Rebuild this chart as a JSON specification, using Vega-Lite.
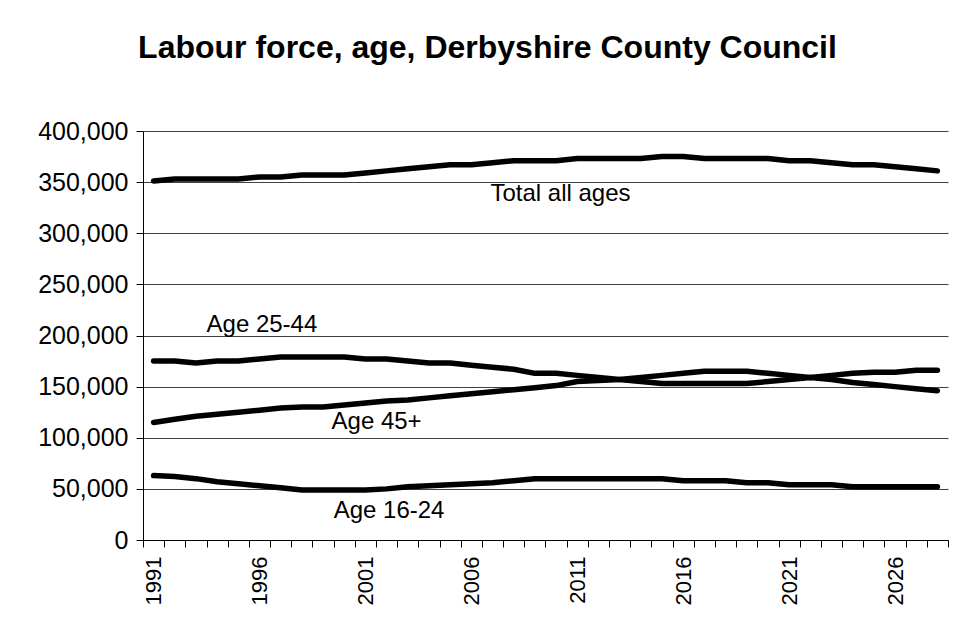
{
  "$schema": "https://vega.github.io/schema/vega-lite/v6.json",
  "width": 805,
  "height": 409,
  "autosize": {"type": "none"},
  "padding": {"left": 143, "top": 131, "right": 8, "bottom": 97},
  "background": "white",
  "title": {
    "text": "Labour force, age, Derbyshire County Council",
    "font": "Liberation Sans",
    "fontSize": 32,
    "fontWeight": "bold",
    "color": "black",
    "anchor": "middle",
    "offset": 54,
    "dx": -58
  },
  "config": {"view": {"stroke": null}, "font": "Liberation Sans"},
  "datasets": {
    "series": [
      {"series": "Total all ages", "year": 1991, "value": 351000},
      {"series": "Total all ages", "year": 1992, "value": 353000},
      {"series": "Total all ages", "year": 1993, "value": 353000},
      {"series": "Total all ages", "year": 1994, "value": 353000},
      {"series": "Total all ages", "year": 1995, "value": 353000},
      {"series": "Total all ages", "year": 1996, "value": 355000},
      {"series": "Total all ages", "year": 1997, "value": 355000},
      {"series": "Total all ages", "year": 1998, "value": 357000},
      {"series": "Total all ages", "year": 1999, "value": 357000},
      {"series": "Total all ages", "year": 2000, "value": 357000},
      {"series": "Total all ages", "year": 2001, "value": 359000},
      {"series": "Total all ages", "year": 2002, "value": 361000},
      {"series": "Total all ages", "year": 2003, "value": 363000},
      {"series": "Total all ages", "year": 2004, "value": 365000},
      {"series": "Total all ages", "year": 2005, "value": 367000},
      {"series": "Total all ages", "year": 2006, "value": 367000},
      {"series": "Total all ages", "year": 2007, "value": 369000},
      {"series": "Total all ages", "year": 2008, "value": 371000},
      {"series": "Total all ages", "year": 2009, "value": 371000},
      {"series": "Total all ages", "year": 2010, "value": 371000},
      {"series": "Total all ages", "year": 2011, "value": 373000},
      {"series": "Total all ages", "year": 2012, "value": 373000},
      {"series": "Total all ages", "year": 2013, "value": 373000},
      {"series": "Total all ages", "year": 2014, "value": 373000},
      {"series": "Total all ages", "year": 2015, "value": 375000},
      {"series": "Total all ages", "year": 2016, "value": 375000},
      {"series": "Total all ages", "year": 2017, "value": 373000},
      {"series": "Total all ages", "year": 2018, "value": 373000},
      {"series": "Total all ages", "year": 2019, "value": 373000},
      {"series": "Total all ages", "year": 2020, "value": 373000},
      {"series": "Total all ages", "year": 2021, "value": 371000},
      {"series": "Total all ages", "year": 2022, "value": 371000},
      {"series": "Total all ages", "year": 2023, "value": 369000},
      {"series": "Total all ages", "year": 2024, "value": 367000},
      {"series": "Total all ages", "year": 2025, "value": 367000},
      {"series": "Total all ages", "year": 2026, "value": 365000},
      {"series": "Total all ages", "year": 2027, "value": 363000},
      {"series": "Total all ages", "year": 2028, "value": 361000},
      {"series": "Age 25-44", "year": 1991, "value": 175000},
      {"series": "Age 25-44", "year": 1992, "value": 175000},
      {"series": "Age 25-44", "year": 1993, "value": 173000},
      {"series": "Age 25-44", "year": 1994, "value": 175000},
      {"series": "Age 25-44", "year": 1995, "value": 175000},
      {"series": "Age 25-44", "year": 1996, "value": 177000},
      {"series": "Age 25-44", "year": 1997, "value": 179000},
      {"series": "Age 25-44", "year": 1998, "value": 179000},
      {"series": "Age 25-44", "year": 1999, "value": 179000},
      {"series": "Age 25-44", "year": 2000, "value": 179000},
      {"series": "Age 25-44", "year": 2001, "value": 177000},
      {"series": "Age 25-44", "year": 2002, "value": 177000},
      {"series": "Age 25-44", "year": 2003, "value": 175000},
      {"series": "Age 25-44", "year": 2004, "value": 173000},
      {"series": "Age 25-44", "year": 2005, "value": 173000},
      {"series": "Age 25-44", "year": 2006, "value": 171000},
      {"series": "Age 25-44", "year": 2007, "value": 169000},
      {"series": "Age 25-44", "year": 2008, "value": 167000},
      {"series": "Age 25-44", "year": 2009, "value": 163000},
      {"series": "Age 25-44", "year": 2010, "value": 163000},
      {"series": "Age 25-44", "year": 2011, "value": 161000},
      {"series": "Age 25-44", "year": 2012, "value": 159000},
      {"series": "Age 25-44", "year": 2013, "value": 157000},
      {"series": "Age 25-44", "year": 2014, "value": 155000},
      {"series": "Age 25-44", "year": 2015, "value": 153000},
      {"series": "Age 25-44", "year": 2016, "value": 153000},
      {"series": "Age 25-44", "year": 2017, "value": 153000},
      {"series": "Age 25-44", "year": 2018, "value": 153000},
      {"series": "Age 25-44", "year": 2019, "value": 153000},
      {"series": "Age 25-44", "year": 2020, "value": 155000},
      {"series": "Age 25-44", "year": 2021, "value": 157000},
      {"series": "Age 25-44", "year": 2022, "value": 159000},
      {"series": "Age 25-44", "year": 2023, "value": 157000},
      {"series": "Age 25-44", "year": 2024, "value": 154000},
      {"series": "Age 25-44", "year": 2025, "value": 152000},
      {"series": "Age 25-44", "year": 2026, "value": 150000},
      {"series": "Age 25-44", "year": 2027, "value": 148000},
      {"series": "Age 25-44", "year": 2028, "value": 146000},
      {"series": "Age 45+", "year": 1991, "value": 115000},
      {"series": "Age 45+", "year": 1992, "value": 118000},
      {"series": "Age 45+", "year": 1993, "value": 121000},
      {"series": "Age 45+", "year": 1994, "value": 123000},
      {"series": "Age 45+", "year": 1995, "value": 125000},
      {"series": "Age 45+", "year": 1996, "value": 127000},
      {"series": "Age 45+", "year": 1997, "value": 129000},
      {"series": "Age 45+", "year": 1998, "value": 130000},
      {"series": "Age 45+", "year": 1999, "value": 130000},
      {"series": "Age 45+", "year": 2000, "value": 132000},
      {"series": "Age 45+", "year": 2001, "value": 134000},
      {"series": "Age 45+", "year": 2002, "value": 136000},
      {"series": "Age 45+", "year": 2003, "value": 137000},
      {"series": "Age 45+", "year": 2004, "value": 139000},
      {"series": "Age 45+", "year": 2005, "value": 141000},
      {"series": "Age 45+", "year": 2006, "value": 143000},
      {"series": "Age 45+", "year": 2007, "value": 145000},
      {"series": "Age 45+", "year": 2008, "value": 147000},
      {"series": "Age 45+", "year": 2009, "value": 149000},
      {"series": "Age 45+", "year": 2010, "value": 151000},
      {"series": "Age 45+", "year": 2011, "value": 155000},
      {"series": "Age 45+", "year": 2012, "value": 156000},
      {"series": "Age 45+", "year": 2013, "value": 157000},
      {"series": "Age 45+", "year": 2014, "value": 159000},
      {"series": "Age 45+", "year": 2015, "value": 161000},
      {"series": "Age 45+", "year": 2016, "value": 163000},
      {"series": "Age 45+", "year": 2017, "value": 165000},
      {"series": "Age 45+", "year": 2018, "value": 165000},
      {"series": "Age 45+", "year": 2019, "value": 165000},
      {"series": "Age 45+", "year": 2020, "value": 163000},
      {"series": "Age 45+", "year": 2021, "value": 161000},
      {"series": "Age 45+", "year": 2022, "value": 159000},
      {"series": "Age 45+", "year": 2023, "value": 161000},
      {"series": "Age 45+", "year": 2024, "value": 163000},
      {"series": "Age 45+", "year": 2025, "value": 164000},
      {"series": "Age 45+", "year": 2026, "value": 164000},
      {"series": "Age 45+", "year": 2027, "value": 166000},
      {"series": "Age 45+", "year": 2028, "value": 166000},
      {"series": "Age 16-24", "year": 1991, "value": 63000},
      {"series": "Age 16-24", "year": 1992, "value": 62000},
      {"series": "Age 16-24", "year": 1993, "value": 60000},
      {"series": "Age 16-24", "year": 1994, "value": 57000},
      {"series": "Age 16-24", "year": 1995, "value": 55000},
      {"series": "Age 16-24", "year": 1996, "value": 53000},
      {"series": "Age 16-24", "year": 1997, "value": 51000},
      {"series": "Age 16-24", "year": 1998, "value": 49000},
      {"series": "Age 16-24", "year": 1999, "value": 49000},
      {"series": "Age 16-24", "year": 2000, "value": 49000},
      {"series": "Age 16-24", "year": 2001, "value": 49000},
      {"series": "Age 16-24", "year": 2002, "value": 50000},
      {"series": "Age 16-24", "year": 2003, "value": 52000},
      {"series": "Age 16-24", "year": 2004, "value": 53000},
      {"series": "Age 16-24", "year": 2005, "value": 54000},
      {"series": "Age 16-24", "year": 2006, "value": 55000},
      {"series": "Age 16-24", "year": 2007, "value": 56000},
      {"series": "Age 16-24", "year": 2008, "value": 58000},
      {"series": "Age 16-24", "year": 2009, "value": 60000},
      {"series": "Age 16-24", "year": 2010, "value": 60000},
      {"series": "Age 16-24", "year": 2011, "value": 60000},
      {"series": "Age 16-24", "year": 2012, "value": 60000},
      {"series": "Age 16-24", "year": 2013, "value": 60000},
      {"series": "Age 16-24", "year": 2014, "value": 60000},
      {"series": "Age 16-24", "year": 2015, "value": 60000},
      {"series": "Age 16-24", "year": 2016, "value": 58000},
      {"series": "Age 16-24", "year": 2017, "value": 58000},
      {"series": "Age 16-24", "year": 2018, "value": 58000},
      {"series": "Age 16-24", "year": 2019, "value": 56000},
      {"series": "Age 16-24", "year": 2020, "value": 56000},
      {"series": "Age 16-24", "year": 2021, "value": 54000},
      {"series": "Age 16-24", "year": 2022, "value": 54000},
      {"series": "Age 16-24", "year": 2023, "value": 54000},
      {"series": "Age 16-24", "year": 2024, "value": 52000},
      {"series": "Age 16-24", "year": 2025, "value": 52000},
      {"series": "Age 16-24", "year": 2026, "value": 52000},
      {"series": "Age 16-24", "year": 2027, "value": 52000},
      {"series": "Age 16-24", "year": 2028, "value": 52000}
    ],
    "labels": [
      {"label": "Total all ages", "x": 2006.9, "y": 331500},
      {"label": "Age 25-44", "x": 1993.5, "y": 203700},
      {"label": "Age 45+", "x": 1999.4, "y": 108300},
      {"label": "Age 16-24", "x": 1999.5, "y": 21200}
    ]
  },
  "layer": [
    {
      "data": {"name": "series"},
      "mark": {"type": "line", "color": "black", "strokeWidth": 5.5, "strokeCap": "round", "strokeJoin": "round"},
      "encoding": {
        "x": {
          "field": "year",
          "type": "ordinal",
          "scale": {"type": "band", "paddingInner": 0, "paddingOuter": 0},
          "axis": {
            "title": null,
            "labelAngle": -90,
            "labelExpr": "(+datum.value - 1991) % 5 == 0 ? datum.label : ''",
            "tickBand": "extent",
            "tickSize": 7,
            "tickColor": "black",
            "domainColor": "black",
            "labelFontSize": 22,
            "labelFont": "Liberation Sans",
            "labelColor": "black",
            "labelPadding": 9,
            "grid": false
          }
        },
        "y": {
          "field": "value",
          "type": "quantitative",
          "scale": {"domain": [0, 400000], "nice": false},
          "axis": {
            "title": null,
            "values": [0, 50000, 100000, 150000, 200000, 250000, 300000, 350000, 400000],
            "format": ",d",
            "labelFontSize": 25,
            "labelFont": "Liberation Sans",
            "labelColor": "black",
            "labelFlush": false,
            "labelPadding": 8,
            "tickSize": 7,
            "tickColor": "black",
            "domainColor": "black",
            "gridColor": "#404040",
            "gridOpacity": 1
          }
        },
        "detail": {"field": "series"}
      }
    },
    {
      "data": {"name": "labels"},
      "mark": {"type": "text", "align": "left", "baseline": "alphabetic", "fontSize": 24, "font": "Liberation Sans", "color": "black"},
      "encoding": {
        "x": {"field": "x", "type": "quantitative", "scale": {"domain": [1990.5, 2028.5], "nice": false, "zero": false}, "axis": null},
        "y": {"field": "y", "type": "quantitative"},
        "text": {"field": "label"}
      }
    }
  ],
  "resolve": {"scale": {"x": "independent"}}
}
